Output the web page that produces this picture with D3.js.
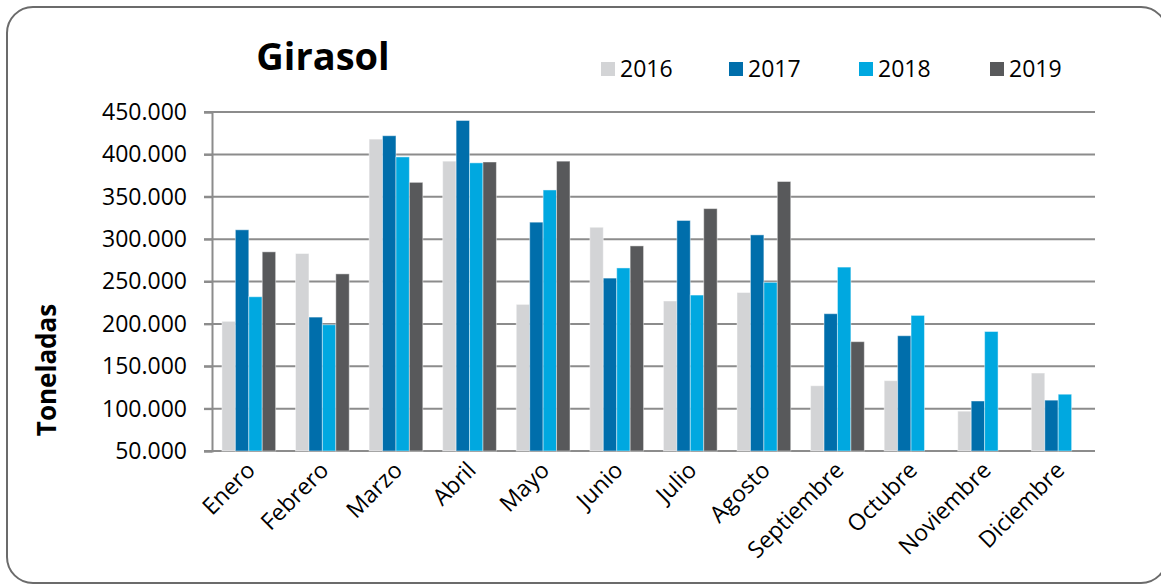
<!DOCTYPE html>
<html>
<head>
<meta charset="utf-8">
<script src="https://cdn.jsdelivr.net/npm/d3@7"></script>
<style>
  body { margin: 0; background: #fff; }
  svg { display: block; font-family: "Open Sans", sans-serif; }
</style>
</head>
<body>
<div id="chart"></div>
<script>
const months = ['Enero', 'Febrero', 'Marzo', 'Abril', 'Mayo', 'Junio', 'Julio',
  'Agosto', 'Septiembre', 'Octubre', 'Noviembre', 'Diciembre'];
const years = ['2016', '2017', '2018', '2019'];
const v2016 = [203000, 283000, 418000, 392000, 223000, 314000, 227000, 237000, 127000, 133000, 97000, 142000];
const v2017 = [311000, 208000, 422000, 440000, 320000, 254000, 322000, 305000, 212000, 186000, 109000, 110000];
const v2018 = [232000, 199000, 397000, 390000, 358000, 266000, 234000, 249000, 267000, 210000, 191000, 117000];
const v2019 = [285000, 259000, 367000, 391000, 392000, 292000, 336000, 368000, 179000, null, null, null];
const yTicks = [50000, 100000, 150000, 200000, 250000, 300000, 350000, 400000, 450000];
const colors = ['#d3d4d6', '#006eab', '#00a8e0', '#58595b'];

const series = [v2016, v2017, v2018, v2019];
const width = 1161, height = 586;

const svg = d3.select('#chart')
  .append('svg')
  .attr('width', width)
  .attr('height', height);

// outer frame
svg.append('rect')
  .attr('x', 7).attr('y', 7)
  .attr('width', 1160).attr('height', 576)
  .attr('rx', 26).attr('ry', 26)
  .attr('fill', '#fff')
  .attr('stroke', '#6b6b6b')
  .attr('stroke-width', 2);

const x0 = d3.scaleBand()
  .domain(months)
  .range([212, 1095])
  .paddingInner(0.27)
  .paddingOuter(0.135);

const x1 = d3.scaleBand()
  .domain(years)
  .range([0, x0.bandwidth()]);

const y = d3.scaleLinear()
  .domain([50000, 450000])
  .range([451, 112]);

const fmt = v => d3.format(',')(v).replace(/,/g, '.');

// gridlines
svg.append('g')
  .selectAll('line')
  .data(yTicks)
  .enter().append('line')
  .attr('x1', 204).attr('x2', 1095)
  .attr('y1', d => y(d)).attr('y2', d => y(d))
  .attr('stroke', '#8c8c8c')
  .attr('stroke-width', 2);

// y axis
const yAxis = svg.append('g')
  .attr('transform', 'translate(212,0)')
  .call(d3.axisLeft(y).tickValues(yTicks).tickFormat(fmt).tickSize(8).tickPadding(17));
yAxis.select('.domain').attr('stroke', '#8c8c8c').attr('stroke-width', 2);
yAxis.selectAll('.tick line').attr('stroke', '#8c8c8c').attr('stroke-width', 2);
yAxis.selectAll('text')
  .attr('font-family', '"Open Sans", sans-serif')
  .attr('font-size', 23)
  .attr('fill', '#000');

// bars
const group = svg.append('g')
  .selectAll('g')
  .data(months)
  .enter().append('g')
  .attr('transform', d => `translate(${x0(d)},0)`);

group.selectAll('rect')
  .data((m, i) => years.map((yr, j) => ({ yr, j, v: series[j][i] })).filter(d => d.v != null))
  .enter().append('rect')
  .attr('x', d => x1(d.yr))
  .attr('y', d => y(d.v))
  .attr('width', x1.bandwidth())
  .attr('height', d => y(50000) - y(d.v))
  .attr('fill', d => colors[d.j])
  .attr('stroke', 'rgba(255,255,255,0.45)')
  .attr('stroke-width', 1);

// x labels
svg.append('g')
  .selectAll('text')
  .data(months)
  .enter().append('text')
  .attr('transform', d => `translate(${x0(d) + x0.bandwidth() / 2 + 2},466) rotate(-45)`)
  .attr('text-anchor', 'end')
  .attr('dy', '0.35em')
  .attr('font-size', 23)
  .attr('fill', '#000')
  .text(d => d);

// title
svg.append('text')
  .attr('x', 323).attr('y', 70)
  .attr('text-anchor', 'middle')
  .attr('font-size', 38)
  .attr('font-weight', 'bold')
  .attr('fill', '#000')
  .text('Girasol');

// y axis title
svg.append('text')
  .attr('transform', 'translate(56,370) rotate(-90)')
  .attr('text-anchor', 'middle')
  .attr('font-size', 26)
  .attr('font-weight', 'bold')
  .attr('fill', '#000')
  .text('Toneladas');

// legend
const legendX = [601, 729, 859, 990];
const legend = svg.append('g')
  .selectAll('g')
  .data(years)
  .enter().append('g')
  .attr('transform', (d, i) => `translate(${legendX[i]},62)`);
legend.append('rect')
  .attr('width', 14).attr('height', 14)
  .attr('fill', (d, i) => colors[i]);
legend.append('text')
  .attr('x', 19).attr('y', 15)
  .attr('font-size', 23)
  .attr('fill', '#000')
  .text(d => d);
</script>
</body>
</html>
